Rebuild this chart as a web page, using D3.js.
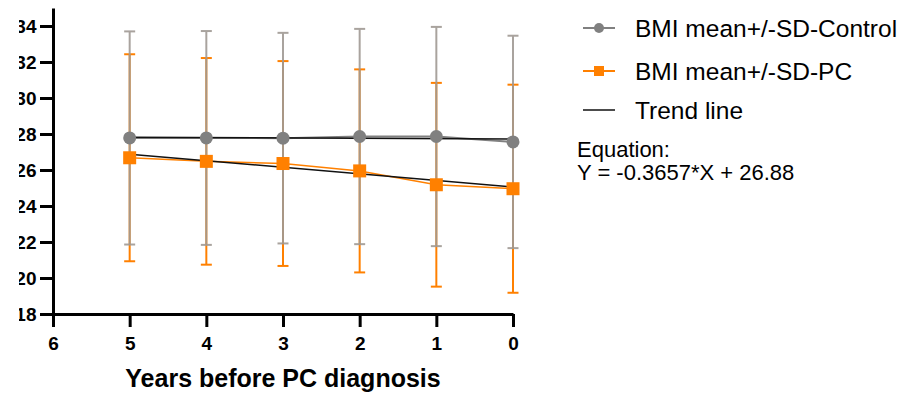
<!DOCTYPE html>
<html>
<head>
<meta charset="utf-8">
<script src="https://cdn.jsdelivr.net/npm/d3@7"></script>
<style>
  body { margin: 0; background: #fff; }
  text { font-family: Arial, "Liberation Sans", sans-serif; }
</style>
</head>
<body>
<div id="chart-area"></div>
<script>
const years = [5, 4, 3, 2, 1, 0]
const controlMean = [27.78, 27.78, 27.77, 27.86, 27.86, 27.56]
const controlSD = [5.92, 5.94, 5.85, 5.98, 6.09, 5.9]
const pcMean = [26.68, 26.48, 26.36, 25.95, 25.18, 24.96]
const pcSD = [5.75, 5.74, 5.69, 5.64, 5.66, 5.78]
// trend lines, X = 5 - years (index from the first time point)
const controlTrend = [27.82, -0.02]
const pcTrend = [26.88, -0.3657]
const yTicks = [18, 20, 22, 24, 26, 28, 30, 32, 34]
const xTicks = [6, 5, 4, 3, 2, 1, 0]
const legendLabels = ['BMI mean+/-SD-Control', 'BMI mean+/-SD-PC', 'Trend line']
const equationLines = ['Equation:', 'Y = -0.3657*X + 26.88']

const GRAY = '#808080'
const ORANGE = '#ff8000'

const svg = d3.select('#chart-area').append('svg')
    .attr('width', 912)
    .attr('height', 395)

const x = d3.scaleLinear().domain([6, 0]).range([53, 513])
const y = d3.scaleLinear().domain([18, 35]).range([314, 8])

// the reference is cropped on the left, labels are cut at x = 19
svg.append('clipPath').attr('id', 'leftcut')
    .append('rect').attr('x', 19 - 53).attr('y', -20).attr('width', 900).attr('height', 420)

const yAxis = svg.append('g')
    .attr('transform', 'translate(53,0)')
    .attr('clip-path', 'url(#leftcut)')
    .call(d3.axisLeft(y).tickValues(yTicks).tickFormat(d3.format('d'))
        .tickSize(13).tickPadding(3.5).tickSizeOuter(0))
yAxis.select('.domain').attr('stroke-width', 3)
yAxis.selectAll('.tick line').attr('stroke-width', 3)
yAxis.selectAll('text').attr('font-size', 19).attr('font-weight', 'bold').attr('fill', '#000')

const xAxis = svg.append('g')
    .attr('transform', 'translate(0,314)')
    .call(d3.axisBottom(x).tickValues(xTicks).tickFormat(d3.format('d'))
        .tickSize(13).tickPadding(10).tickSizeOuter(0))
xAxis.select('.domain').attr('stroke-width', 3)
xAxis.selectAll('.tick line').attr('stroke-width', 3)
xAxis.selectAll('text').attr('font-size', 19).attr('font-weight', 'bold').attr('fill', '#000')

svg.append('text')
    .attr('x', 283).attr('y', 387)
    .attr('text-anchor', 'middle')
    .attr('font-size', 25).attr('font-weight', 'bold')
    .text('Years before PC diagnosis')

function errorBars(mean, sd, color, opacity) {
    const g = svg.append('g').attr('stroke', color).attr('stroke-width', 2).attr('opacity', opacity)
    g.selectAll('line.v').data(years).enter().append('line')
        .attr('x1', d => x(d)).attr('x2', d => x(d))
        .attr('y1', (d, i) => y(mean[i] - sd[i]))
        .attr('y2', (d, i) => y(mean[i] + sd[i]))
    ;[-1, 1].forEach(s => {
        g.selectAll('line.c' + (s + 1)).data(years).enter().append('line')
            .attr('x1', d => x(d) - 5.5).attr('x2', d => x(d) + 5.5)
            .attr('y1', (d, i) => y(mean[i] + s * sd[i]))
            .attr('y2', (d, i) => y(mean[i] + s * sd[i]))
    })
}

errorBars(pcMean, pcSD, ORANGE, 1)
errorBars(controlMean, controlSD, '#a09a94', 0.9)

const line = (vals) => d3.line().x((d, i) => x(years[i])).y(d => y(d))(vals)

svg.append('path').attr('d', line(controlMean))
    .attr('fill', 'none').attr('stroke', GRAY).attr('stroke-width', 2)
svg.append('path').attr('d', line(pcMean))
    .attr('fill', 'none').attr('stroke', ORANGE).attr('stroke-width', 1.5)

const trendLine = (t) => d3.line()
    .x(d => x(d)).y(d => y(t[0] + t[1] * (5 - d)))([5, 0])
svg.append('path').attr('d', trendLine(controlTrend))
    .attr('fill', 'none').attr('stroke', '#111').attr('stroke-width', 1.5)
svg.append('path').attr('d', trendLine(pcTrend))
    .attr('fill', 'none').attr('stroke', '#111').attr('stroke-width', 1.5)

svg.selectAll('circle.ctrl').data(years).enter().append('circle')
    .attr('cx', d => x(d)).attr('cy', (d, i) => y(controlMean[i]))
    .attr('r', 6.5).attr('fill', GRAY)

svg.selectAll('rect.pc').data(years).enter().append('rect')
    .attr('x', d => x(d) - 6.5).attr('y', (d, i) => y(pcMean[i]) - 6.5)
    .attr('width', 13).attr('height', 13).attr('fill', ORANGE)

// legend
const legend = svg.append('g')
const rowY = [28, 71, 110]
legendLabels.forEach((label, i) => {
    const color = i === 0 ? GRAY : i === 1 ? ORANGE : '#111'
    legend.append('line')
        .attr('x1', 583).attr('x2', 615).attr('y1', rowY[i]).attr('y2', rowY[i])
        .attr('stroke', color).attr('stroke-width', i === 2 ? 1.5 : 2)
    if (i === 0) {
        legend.append('circle').attr('cx', 599).attr('cy', rowY[i]).attr('r', 5).attr('fill', GRAY)
    } else if (i === 1) {
        legend.append('rect').attr('x', 594).attr('y', rowY[i] - 5)
            .attr('width', 10).attr('height', 10).attr('fill', ORANGE)
    }
    legend.append('text')
        .attr('x', 635).attr('y', rowY[i] + 9)
        .attr('font-size', 24.5)
        .text(label)
})

equationLines.forEach((t, i) => {
    svg.append('text')
        .attr('x', 577).attr('y', 157 + i * 23)
        .attr('font-size', 22)
        .text(t)
})
</script>
</body>
</html>
